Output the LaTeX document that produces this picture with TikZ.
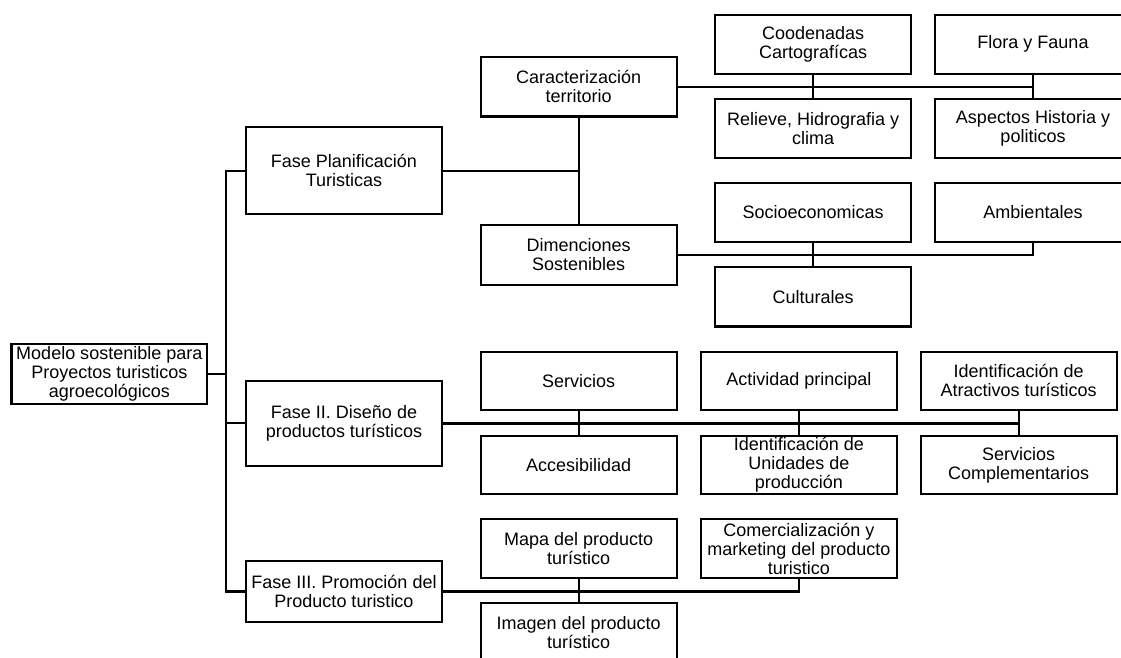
\documentclass[tikz,border=0pt]{standalone}
\usepackage{fontspec}
\setmainfont{Liberation Sans}
\begin{document}
\begin{tikzpicture}[x=1pt,y=-1pt,
  box/.style={draw=black, line width=2.1pt, fill=white, inner sep=0pt, align=center,
    font=\fontsize{18}{19}\selectfont, minimum width=196pt, minimum height=59.5pt},
  conn/.style={draw=black, line width=2.1pt},
  thickconn/.style={draw=black, line width=3.2pt}]
\useasboundingbox (0,0) rectangle (1121,657);
% level 0 and 1
\node[box, minimum width=195.7pt, minimum height=60.3pt] (mod) at (109.3,374.2) {Modelo sostenible para\\Proyectos turisticos\\agroecológicos};
\node[box, minimum height=86.7pt] (f1) at (344,170.7) {Fase Planificación\\Turisticas};
\node[box, minimum height=85pt] (f2) at (344,423.2) {Fase II. Diseño de\\productos turísticos};
\node[box, minimum height=60.4pt] (f3) at (344,591.5) {Fase III. Promoción del\\Producto turistico};
% column 2
\node[box] (car) at (578.6,86.7) {Caracterización\\territorio};
\node[box] (dim) at (578.6,255) {Dimenciones\\Sostenibles};
\node[box, minimum height=58.3pt] (ser) at (578.6,380.9) {Servicios};
\node[box, minimum height=58.6pt] (acc) at (578.6,465) {Accesibilidad};
\node[box, minimum height=59pt] (map) at (578.6,548.8) {Mapa del producto\\turístico};
\node[box, minimum height=59pt] (img) at (578.6,632.8) {Imagen del producto\\turístico};
% Fase I branches
\node[box] (coo) at (813.1,44.3) {Coodenadas\\Cartografícas};
\node[box] (flo) at (1033,44.3) {Flora y Fauna};
\node[box] (rel) at (813.1,128.5) {Relieve, Hidrografia y\\clima};
\node[box] (asp) at (1033,128.5) {Aspectos Historia y\\politicos};
\node[box] (soc) at (813.1,212.5) {Socioeconomicas};
\node[box] (amb) at (1033,212.5) {Ambientales};
\node[box] (cul) at (813.1,296.7) {Culturales};
% Fase II branches
\node[box, minimum height=58.3pt] (act) at (798.8,380.9) {Actividad principal};
\node[box, minimum height=58.3pt] (atr) at (1018.7,380.9) {Identificación de\\Atractivos turísticos};
\node[box, minimum height=58.6pt] (uni) at (798.8,465) {Identificación de\\Unidades de\\producción};
\node[box, minimum height=58.6pt] (cpl) at (1018.7,465) {Servicios\\Complementarios};
% Fase III branches
\node[box, minimum height=59pt] (com) at (798.8,548.8) {Comercialización y\\marketing del producto\\turistico};
% trunk
\coordinate (trk) at (226.4,0);
\draw[conn] (f1.west) -- (f1.west -| trk) -- (f3.west -| trk) -- (f3.west);
\draw[conn] (f2.west) -- (f2.west -| trk);
\draw[conn] (mod.east) -- (mod.east -| trk);
% Fase I
\draw[conn] (f1.east) -- (f1.east -| car.south);
\draw[conn] (car.south) -- (dim.north);
\draw[conn] (car.east) -- (car.east -| flo.south) -- (flo.south);
\draw[conn] (coo.south) -- (rel.north);
\draw[conn] (flo.south) -- (asp.north);
\draw[conn] (dim.east) -- (dim.east -| amb.south) -- (amb.south);
\draw[conn] (soc.south) -- (cul.north);
% Fase II
\draw[thickconn] (f2.east) -- (f2.east -| atr.south);
\draw[conn] (ser.south) -- (acc.north);
\draw[conn] (act.south) -- (uni.north);
\draw[conn] (atr.south) -- (cpl.north);
% Fase III
\draw[conn] (f3.east) -- (f3.east -| com.south) -- (com.south);
\draw[conn] (map.south) -- (img.north);
\end{tikzpicture}
\end{document}
